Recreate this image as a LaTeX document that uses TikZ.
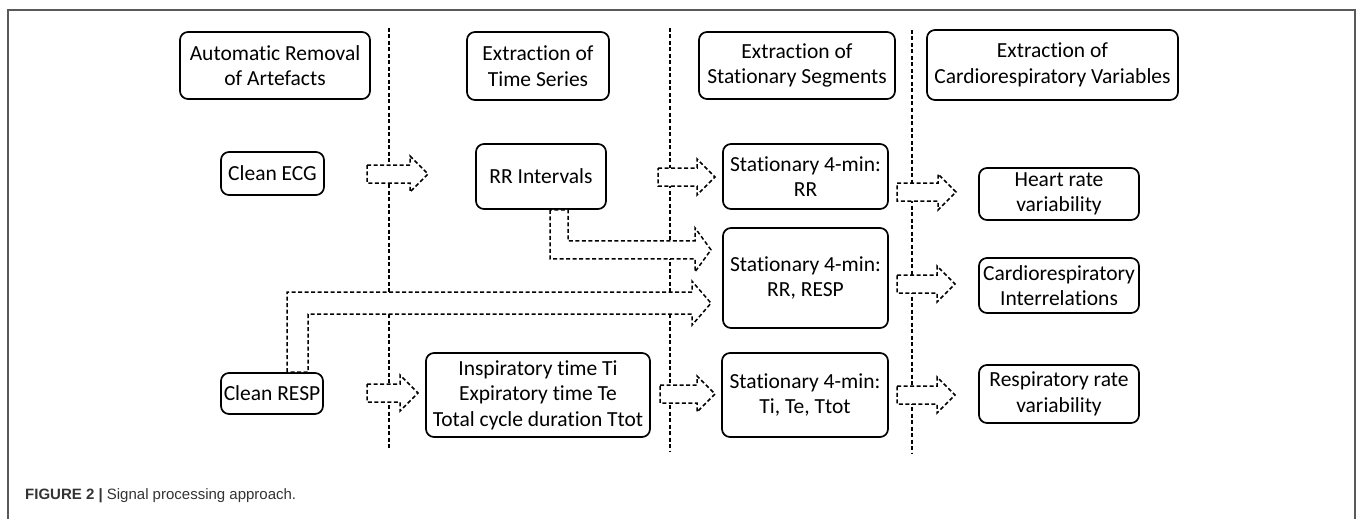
\documentclass[tikz,border=0pt]{standalone}
\usepackage{fontspec}
\newfontfamily\calibfont[Ligatures=NoCommon]{Carlito}
\newfontfamily\captfont{Liberation Sans}
\usetikzlibrary{calc}

\begin{document}
\begin{tikzpicture}[x=1pt, y=-1pt,
    stagebox/.style={draw, line width=1.7pt, rounded corners=8pt, align=center,
        inner sep=0pt, font={\calibfont\fontsize{21.5}{25.5}\selectfont}},
    divider/.style={line width=1.5pt, dash pattern=on 4pt off 2.5pt},
    blockarrow/.style={line width=1.5pt, dash pattern=on 4pt off 2.5pt, fill=white}]

    \useasboundingbox (0,0) rectangle (1358,519);

    % frame
    \draw[black!65, line width=1.5pt] (8,519) -- (8,10) -- (1355,10) -- (1355,519);

    % column dividers
    \foreach \x/\ya/\yb in {389/28/450, 670/28/451, 912/30/453}
    {
        \draw[divider] (\x,\ya) -- (\x,\yb);
    };

    % stage headers
    \node[stagebox, minimum width=190pt, minimum height=67pt] (hremove) at (275,65.5) {Automatic Removal\\of Artefacts};
    \node[stagebox, minimum width=142pt, minimum height=68pt] (hseries) at (538,66) {Extraction of\\Time Series};
    \node[stagebox, minimum width=196pt, minimum height=67pt] (hsegment) at (797,65.5) {Extraction of\\Stationary Segments};
    \node[stagebox, minimum width=251pt, minimum height=70pt] (hvariable) at (1052.5,65) {Extraction of\\Cardiorespiratory Variables};

    % signals
    \node[stagebox, minimum width=103pt, minimum height=43pt] (ecg) at (272.5,173.5) {Clean ECG};
    \node[stagebox, minimum width=102pt, minimum height=41pt] (resp) at (272,393.5) {Clean RESP};

    % time series
    \node[stagebox, minimum width=130pt, minimum height=65pt] (rri) at (541,176.5) {RR Intervals};
    \node[stagebox, minimum width=224pt, minimum height=84pt] (times) at (538,395) {Inspiratory time Ti\\Expiratory time Te\\Total cycle duration Ttot};

    % stationary segments
    \node[stagebox, minimum width=165pt, minimum height=65pt] (segrr) at (805.5,176.5) {Stationary 4-min:\\RR};
    \node[stagebox, minimum width=165pt, minimum height=100pt] (segrrresp) at (805.5,278) {Stationary 4-min:\\RR, RESP};
    \node[stagebox, minimum width=166pt, minimum height=84pt] (segtimes) at (805,395) {Stationary 4-min:\\Ti, Te, Ttot};

    % variables
    \node[stagebox, minimum width=160pt, minimum height=52pt] (hrv) at (1059,194) {Heart rate\\variability};
    \node[stagebox, minimum width=160pt, minimum height=55pt] (cardio) at (1059,285.5) {Cardiorespiratory\\Interrelations};
    \node[stagebox, minimum width=160pt, minimum height=58pt] (rrv) at (1059,394) {Respiratory rate\\variability};

    % straight block arrows
    \foreach \xa/\xb/\yc in {367/428/174, 658/715/177, 897/956/192, 897/955/284,
                             367/418/393, 660/715/394, 897/955/395}
    {
        \draw[blockarrow] (\xa,\yc-9) -- (\xb-18,\yc-9) -- (\xb-18,\yc-18) -- (\xb,\yc)
            -- (\xb-18,\yc+18) -- (\xb-18,\yc+9) -- (\xa,\yc+9) -- cycle;
    };

    % bent block arrows
    \draw[blockarrow] ($(rri.south)+(9,0)$) -- ++(0,49) -- ++(145,0) -- ++(0,13)
        -- ++(16,-22) -- ++(-16,-22) -- ++(0,13) -- ++(-127,0) -- ++(0,-31) -- cycle;
    \draw[blockarrow] ($(resp.north)+(15,0)$) -- ++(0,-80) -- ++(405,0) -- ++(0,-11)
        -- ++(19,22) -- ++(-19,22) -- ++(0,-11) -- ++(-384,0) -- ++(0,58) -- cycle;

    % caption
    \node[anchor=base west, inner sep=0pt, text=black!80, font={\captfont\fontsize{15}{18}\selectfont}] (caption) at (25,499)
        {\textbf{FIGURE 2 |} Signal processing approach.};
\end{tikzpicture}
\end{document}
